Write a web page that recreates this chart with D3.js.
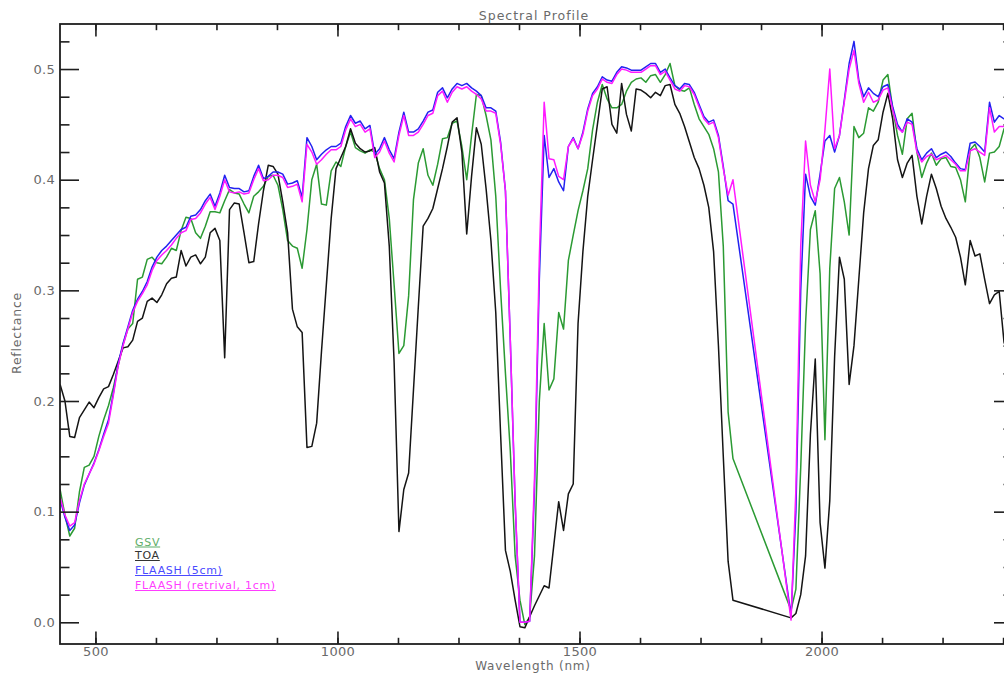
<!DOCTYPE html>
<html>
<head>
<meta charset="utf-8">
<script src="https://cdn.jsdelivr.net/npm/d3@7"></script>
<style>
  body { margin: 0; background: #fff; }
  svg { display: block; font-family: "DejaVu Sans", sans-serif; }
</style>
</head>
<body>
<svg id="chart" width="1004" height="675"></svg>
<script>
// Band centre wavelengths (nm); the 1817-1937 nm water band is excluded
const wavelengths = [
  427,437,447,457,467,477,487,497,507,517,
  527,537,547,557,567,577,587,597,607,617,
  627,637,647,657,667,677,687,697,707,717,
  727,737,747,757,767,777,787,797,807,817,
  827,837,847,857,867,877,887,897,907,917,
  927,937,947,957,967,977,987,997,1007,1017,
  1027,1037,1047,1057,1067,1077,1087,1097,1107,1117,
  1127,1137,1147,1157,1167,1177,1187,1197,1207,1217,
  1227,1237,1247,1257,1267,1277,1287,1297,1307,1317,
  1327,1337,1347,1357,1367,1377,1387,1397,1407,1417,
  1427,1437,1447,1457,1467,1477,1487,1497,1507,1517,
  1527,1537,1547,1557,1567,1577,1587,1597,1607,1617,
  1627,1637,1647,1657,1667,1677,1687,1697,1707,1717,
  1727,1737,1747,1757,1767,1777,1787,1797,1807,1817,
  1937,1947,1957,1967,1977,1987,1997,2007,2017,2027,
  2037,2047,2057,2067,2077,2087,2097,2107,2117,2127,
  2137,2147,2157,2167,2177,2187,2197,2207,2217,2227,
  2237,2247,2257,2267,2277,2287,2297,2307,2317,2327,
  2337,2347,2357,2367,2377,2387
];

// Ground spectrum
const gsv = [
  0.120,0.097,0.078,0.085,0.118,0.140,0.142,0.150,0.168,0.183,
  0.196,0.212,0.232,0.251,0.265,0.270,0.310,0.312,0.328,0.330,
  0.325,0.324,0.330,0.338,0.336,0.354,0.366,0.365,0.352,0.347,
  0.358,0.371,0.371,0.370,0.381,0.391,0.388,0.387,0.378,0.370,
  0.385,0.389,0.394,0.403,0.404,0.395,0.373,0.345,0.340,0.338,
  0.320,0.355,0.400,0.414,0.378,0.377,0.408,0.416,0.412,0.430,
  0.443,0.429,0.426,0.424,0.427,0.425,0.410,0.400,0.365,0.305,
  0.243,0.250,0.295,0.382,0.415,0.428,0.404,0.395,0.414,0.437,
  0.438,0.451,0.453,0.430,0.400,0.440,0.477,0.476,0.458,0.436,
  0.385,0.300,0.225,0.155,0.060,0.020,-0.002,0.005,0.060,0.200,
  0.270,0.210,0.220,0.280,0.265,0.327,0.350,0.372,0.390,0.410,
  0.445,0.470,0.486,0.473,0.465,0.465,0.468,0.480,0.488,0.491,
  0.492,0.488,0.494,0.495,0.488,0.495,0.505,0.485,0.481,0.480,
  0.483,0.468,0.455,0.448,0.441,0.428,0.407,0.340,0.190,0.148,
  0.011,0.030,0.140,0.270,0.355,0.372,0.315,0.165,0.320,0.392,
  0.402,0.380,0.350,0.448,0.438,0.442,0.465,0.462,0.470,0.490,
  0.495,0.464,0.440,0.423,0.455,0.460,0.425,0.402,0.415,0.424,
  0.413,0.419,0.420,0.412,0.411,0.400,0.380,0.427,0.432,0.420,
  0.398,0.424,0.425,0.430,0.446,0.448
];

// Top-of-atmosphere reflectance
const toa = [
  0.215,0.200,0.168,0.167,0.185,0.192,0.199,0.194,0.203,0.211,
  0.213,0.224,0.236,0.248,0.249,0.255,0.272,0.275,0.290,0.293,
  0.289,0.296,0.306,0.311,0.312,0.336,0.322,0.330,0.332,0.324,
  0.330,0.352,0.356,0.345,0.239,0.373,0.379,0.378,0.352,0.325,
  0.326,0.360,0.390,0.413,0.412,0.405,0.380,0.352,0.283,0.267,
  0.262,0.158,0.159,0.180,0.245,0.305,0.365,0.410,0.420,0.430,
  0.446,0.433,0.428,0.425,0.426,0.429,0.407,0.397,0.340,0.235,
  0.082,0.120,0.135,0.210,0.285,0.358,0.365,0.374,0.392,0.410,
  0.430,0.452,0.456,0.425,0.351,0.403,0.447,0.432,0.392,0.345,
  0.280,0.170,0.065,0.046,0.020,-0.004,-0.005,0.005,0.015,0.024,
  0.033,0.031,0.070,0.109,0.083,0.116,0.125,0.270,0.335,0.385,
  0.418,0.450,0.482,0.484,0.450,0.442,0.487,0.459,0.444,0.482,
  0.481,0.478,0.474,0.479,0.476,0.485,0.486,0.468,0.460,0.448,
  0.434,0.420,0.410,0.395,0.375,0.335,0.250,0.150,0.055,0.020,
  0.004,0.008,0.025,0.060,0.170,0.238,0.090,0.049,0.110,0.240,
  0.330,0.310,0.215,0.250,0.310,0.370,0.410,0.431,0.436,0.461,
  0.478,0.455,0.418,0.402,0.415,0.422,0.385,0.360,0.385,0.405,
  0.392,0.376,0.365,0.357,0.348,0.330,0.305,0.345,0.331,0.333,
  0.310,0.288,0.296,0.299,0.253,0.240
];

// FLAASH with fixed 5 cm water vapour
const flaash5 = [
  0.111,0.095,0.083,0.088,0.108,0.124,0.134,0.144,0.156,0.170,
  0.183,0.207,0.234,0.252,0.267,0.282,0.292,0.299,0.308,0.321,
  0.330,0.336,0.340,0.345,0.350,0.355,0.357,0.367,0.368,0.373,
  0.381,0.387,0.376,0.388,0.404,0.393,0.392,0.392,0.389,0.390,
  0.403,0.413,0.401,0.403,0.407,0.407,0.405,0.396,0.397,0.399,
  0.384,0.438,0.430,0.418,0.423,0.427,0.430,0.430,0.433,0.448,
  0.458,0.451,0.453,0.446,0.449,0.423,0.428,0.438,0.427,0.419,
  0.443,0.461,0.443,0.443,0.446,0.453,0.461,0.463,0.479,0.483,
  0.474,0.482,0.487,0.485,0.487,0.483,0.480,0.476,0.465,0.465,
  0.462,0.434,0.390,0.255,0.108,0.000,0.000,0.001,0.120,0.310,
  0.440,0.402,0.410,0.398,0.390,0.430,0.438,0.428,0.443,0.464,
  0.478,0.484,0.493,0.490,0.489,0.497,0.502,0.501,0.499,0.499,
  0.499,0.502,0.505,0.505,0.497,0.500,0.492,0.485,0.482,0.487,
  0.486,0.479,0.468,0.457,0.452,0.454,0.440,0.412,0.381,0.378,
  0.006,0.100,0.300,0.405,0.385,0.377,0.405,0.435,0.440,0.425,
  0.440,0.472,0.505,0.525,0.490,0.475,0.483,0.478,0.475,0.484,
  0.486,0.466,0.450,0.443,0.455,0.452,0.428,0.418,0.424,0.428,
  0.420,0.423,0.425,0.421,0.415,0.410,0.409,0.433,0.434,0.430,
  0.425,0.470,0.452,0.458,0.455,0.455
];

// FLAASH with retrieved water vapour (1 cm)
const flaashRet = [
  0.113,0.097,0.087,0.090,0.110,0.125,0.134,0.143,0.155,0.168,
  0.180,0.205,0.232,0.250,0.265,0.280,0.290,0.297,0.305,0.318,
  0.327,0.332,0.336,0.341,0.347,0.352,0.354,0.364,0.365,0.370,
  0.378,0.384,0.373,0.385,0.400,0.389,0.388,0.389,0.387,0.388,
  0.400,0.410,0.399,0.400,0.404,0.404,0.402,0.393,0.394,0.396,
  0.380,0.432,0.425,0.414,0.418,0.423,0.427,0.427,0.430,0.445,
  0.455,0.448,0.450,0.443,0.446,0.420,0.425,0.435,0.424,0.416,
  0.440,0.458,0.440,0.440,0.443,0.450,0.458,0.460,0.476,0.480,
  0.470,0.479,0.484,0.482,0.484,0.480,0.477,0.473,0.462,0.462,
  0.460,0.432,0.390,0.255,0.110,0.000,0.000,0.001,0.130,0.330,
  0.470,0.419,0.418,0.403,0.400,0.430,0.437,0.428,0.441,0.462,
  0.476,0.482,0.491,0.488,0.487,0.495,0.500,0.499,0.497,0.497,
  0.497,0.500,0.503,0.503,0.495,0.498,0.490,0.482,0.480,0.485,
  0.484,0.477,0.466,0.455,0.450,0.452,0.438,0.410,0.386,0.400,
  0.002,0.120,0.340,0.435,0.395,0.380,0.400,0.445,0.500,0.428,
  0.440,0.470,0.500,0.517,0.487,0.470,0.479,0.470,0.472,0.481,
  0.483,0.463,0.447,0.443,0.452,0.450,0.425,0.416,0.421,0.423,
  0.418,0.420,0.422,0.418,0.414,0.408,0.408,0.426,0.428,0.425,
  0.422,0.465,0.443,0.448,0.448,0.448
];

const seriesNames = ["GSV", "TOA", "FLAASH (5cm)", "FLAASH (retrival, 1cm)"];
const seriesColors = ["#2b9a33", "#141414", "#2222f0", "#ff1aff"];
const legendColors = ["#5fae6a", "#333333", "#4a4aff", "#ff3dff"];

const xMajorTicks = [500, 1000, 1500, 2000];
const xMinorTicks = [500, 625, 750, 875, 1000, 1125, 1250, 1375, 1500, 1625, 1750, 1875, 2000, 2125, 2250, 2375];
const yMajorTicks = [0.0, 0.1, 0.2, 0.3, 0.4, 0.5];
const yMinorTicks = [0.025, 0.05, 0.075, 0.125, 0.15, 0.175, 0.225, 0.25, 0.275, 0.325, 0.35, 0.375, 0.425, 0.45, 0.475, 0.525];

const svg = d3.select("#chart");
const plot = { left: 60, top: 24, right: 1013, bottom: 644 };

const x = d3.scaleLinear().domain([426.8, 2395.5]).range([plot.left, plot.right]);
const y = d3.scaleLinear().domain([-0.0196, 0.5407]).range([plot.bottom, plot.top]);

const axisColor = "#1e1e1e";
const labelColor = "#6a6a6a";
const xTickLen = 12.4, yTickLen = 19;

svg.append("defs").append("clipPath").attr("id", "plot-clip")
  .append("rect")
  .attr("x", plot.left).attr("y", plot.top)
  .attr("width", plot.right - plot.left).attr("height", plot.bottom - plot.top);

// Spectral lines
const lineGen = d3.line().x(d => x(d[0])).y(d => y(d[1]));
const allSeries = [gsv, toa, flaash5, flaashRet];
const lines = svg.append("g").attr("clip-path", "url(#plot-clip)");
allSeries.forEach((vals, i) => {
  const pts = wavelengths.map((w, k) => [w, vals[k]]).filter(d => d[1] != null);
  lines.append("path")
    .datum(pts)
    .attr("fill", "none")
    .attr("stroke", seriesColors[i])
    .attr("stroke-width", 1.5)
    .attr("stroke-linejoin", "round")
    .attr("d", lineGen);
});

// Axes (box style with ticks on all four sides)
function styleAxis(g) {
  g.select(".domain").remove();
  g.selectAll(".tick line").attr("stroke", axisColor).attr("stroke-width", 1.6);
  g.selectAll(".tick text")
    .attr("fill", labelColor)
    .attr("font-size", 13)
    .attr("letter-spacing", 0.3)
    .attr("font-family", "DejaVu Sans, sans-serif");
}

svg.append("g").attr("transform", `translate(0,${plot.bottom})`)
  .call(d3.axisBottom(x).tickValues(xMinorTicks).tickSize(-xTickLen / 2).tickFormat(""))
  .call(styleAxis);
svg.append("g").attr("transform", `translate(0,${plot.bottom})`)
  .call(d3.axisBottom(x).tickValues(xMajorTicks).tickSize(-xTickLen).tickPadding(3).tickFormat(d3.format("d")))
  .call(styleAxis);
svg.append("g").attr("transform", `translate(0,${plot.top})`)
  .call(d3.axisTop(x).tickValues(xMinorTicks).tickSize(-xTickLen / 2).tickFormat(""))
  .call(styleAxis);
svg.append("g").attr("transform", `translate(0,${plot.top})`)
  .call(d3.axisTop(x).tickValues(xMajorTicks).tickSize(-xTickLen).tickFormat(""))
  .call(styleAxis);

svg.append("g").attr("transform", `translate(${plot.left},0)`)
  .call(d3.axisLeft(y).tickValues(yMinorTicks).tickSize(-yTickLen / 2).tickFormat(""))
  .call(styleAxis);
svg.append("g").attr("transform", `translate(${plot.left},0)`)
  .call(d3.axisLeft(y).tickValues(yMajorTicks).tickSize(-yTickLen).tickPadding(5).tickFormat(d3.format(".1f")))
  .call(styleAxis);
svg.append("g").attr("transform", `translate(${plot.right},0)`)
  .call(d3.axisRight(y).tickValues(yMinorTicks).tickSize(-yTickLen / 2).tickFormat(""))
  .call(styleAxis);
svg.append("g").attr("transform", `translate(${plot.right},0)`)
  .call(d3.axisRight(y).tickValues(yMajorTicks).tickSize(-yTickLen).tickFormat(""))
  .call(styleAxis);

// Plot frame
svg.append("rect")
  .attr("x", plot.left).attr("y", plot.top)
  .attr("width", plot.right - plot.left).attr("height", plot.bottom - plot.top)
  .attr("fill", "none").attr("stroke", axisColor).attr("stroke-width", 1.8);

// Titles
svg.append("text")
  .attr("x", 534).attr("y", 19.5)
  .attr("text-anchor", "middle")
  .attr("font-size", 12.5).attr("letter-spacing", 1)
  .attr("fill", labelColor)
  .text("Spectral Profile");
svg.append("text")
  .attr("x", 533).attr("y", 670)
  .attr("text-anchor", "middle")
  .attr("font-size", 12).attr("letter-spacing", 0.8)
  .attr("fill", labelColor)
  .text("Wavelength (nm)");
svg.append("text")
  .attr("transform", "translate(21,333) rotate(-90)")
  .attr("text-anchor", "middle")
  .attr("font-size", 12.5).attr("letter-spacing", 0.8)
  .attr("fill", labelColor)
  .text("Reflectance");

// Legend: underlined labels in series colours
const legendBaselines = [545.5, 559, 574, 589];
const legend = svg.append("g");
seriesNames.forEach((name, i) => {
  const t = legend.append("text")
    .attr("x", 135).attr("y", legendBaselines[i])
    .attr("font-size", 11).attr("letter-spacing", 0.7)
    .attr("fill", legendColors[i])
    .text(name);
  const w = t.node().getComputedTextLength();
  legend.append("line")
    .attr("x1", 135).attr("x2", 135 + w)
    .attr("y1", legendBaselines[i] + 1.5).attr("y2", legendBaselines[i] + 1.5)
    .attr("stroke", legendColors[i]).attr("stroke-width", 1);
});
</script>
</body>
</html>
